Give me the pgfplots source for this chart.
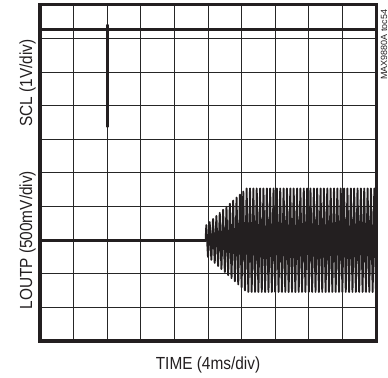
\documentclass[border=0pt]{standalone}
\usepackage{fontspec}
\setmainfont{Liberation Sans}
\newfontfamily\labfont{Liberation Sans}[FakeStretch=0.88]
\usepackage{pgfplots}
\pgfplotsset{compat=1.18}
\definecolor{scopeblack}{HTML}{231F20}
\begin{document}
\begin{tikzpicture}
\begin{axis}[
  scale only axis, width=336bp, height=336bp,
  xmin=0, xmax=10, ymin=0, ymax=10,
  xtick={0,1,...,10}, ytick={0,1,...,10},
  xticklabels={}, yticklabels={},
  major tick length=0pt,
  grid=major,
  grid style={line width=1bp, color=black!85},
  axis line style={line width=3bp, color=scopeblack},
]
% SCL trace
\addplot[color=scopeblack, line width=3.2bp] coordinates {(0,9.28) (10,9.28)};
\addplot[color=scopeblack, line width=3.2bp, line cap=round] coordinates {(2,9.4) (2,6.38)};
% LOUTP baseline
\addplot[color=scopeblack, line width=3.2bp] coordinates {(0,3) (4.94,3)};
% LOUTP oscillation
\addplot[color=scopeblack, line width=1.9bp, line join=round] coordinates {
(4.93,3) (4.95,3.45) (5.00,2.505) (5.05,3.54) (5.10,2.414) (5.15,3.632) (5.20,2.323) (5.25,3.722) (5.30,2.232) (5.35,3.813) (5.40,2.141) (5.45,3.904) (5.50,2.051) (5.55,3.995) (5.60,1.96) (5.65,4.086) (5.70,1.869) (5.75,4.177) (5.80,1.778) (5.85,4.268) (5.90,1.687) (5.95,4.358) (6.00,1.596) (6.05,4.449) (6.10,1.505) (6.15,4.54)
(6.20,1.46) (6.25,4.54) (6.30,1.46) (6.35,4.54) (6.40,1.46) (6.45,4.54) (6.50,1.46) (6.55,4.54) (6.60,1.46) (6.65,4.54) (6.70,1.46) (6.75,4.54) (6.80,1.46) (6.85,4.54) (6.90,1.46) (6.95,4.54) (7.00,1.46) (7.05,4.54) (7.10,1.46) (7.15,4.54) (7.20,1.46) (7.25,4.54) (7.30,1.46) (7.35,4.54) (7.40,1.46) (7.45,4.54) (7.50,1.46) (7.55,4.54) (7.60,1.46) (7.65,4.54) (7.70,1.46) (7.75,4.54) (7.80,1.46) (7.85,4.54) (7.90,1.46) (7.95,4.54) (8.00,1.46) (8.05,4.54) (8.10,1.46) (8.15,4.54) (8.20,1.46) (8.25,4.54) (8.30,1.46) (8.35,4.54) (8.40,1.46) (8.45,4.54) (8.50,1.46) (8.55,4.54) (8.60,1.46) (8.65,4.54) (8.70,1.46) (8.75,4.54) (8.80,1.46) (8.85,4.54) (8.90,1.46) (8.95,4.54) (9.00,1.46) (9.05,4.54) (9.10,1.46) (9.15,4.54) (9.20,1.46) (9.25,4.54) (9.30,1.46) (9.35,4.54) (9.40,1.46) (9.45,4.54) (9.50,1.46) (9.55,4.54) (9.60,1.46) (9.65,4.54) (9.70,1.46) (9.75,4.54) (9.80,1.46) (9.85,4.54) (9.90,1.46) (9.95,4.54) (10.00,1.46)
};
\end{axis}
\node[rotate=90, anchor=base, inner sep=0pt, font=\labfont\fontsize{17.5bp}{17.5bp}\selectfont, text=scopeblack]
  at ([shift={(-8bp,258.1bp)}]current axis.south west) {SCL (1V/div)};
\node[rotate=90, anchor=base, inner sep=0pt, font=\labfont\fontsize{17.5bp}{17.5bp}\selectfont, text=scopeblack]
  at ([shift={(-8bp,100.8bp)}]current axis.south west) {LOUTP (500mV/div)};
\node[anchor=base, inner sep=0pt, font=\labfont\fontsize{17.5bp}{17.5bp}\selectfont, text=scopeblack]
  at ([shift={(168bp,-28bp)}]current axis.south west) {TIME (4ms/div)};
\node[rotate=90, anchor=base west, inner sep=0pt, font=\fontsize{9bp}{9bp}\selectfont, text=scopeblack]
  at ([shift={(347bp,261bp)}]current axis.south west) {MAX9880A toc54};
\path ([shift={(-40bp,-37bp)}]current axis.south west) rectangle ([shift={(12bp,5bp)}]current axis.north east);
\end{tikzpicture}
\end{document}
